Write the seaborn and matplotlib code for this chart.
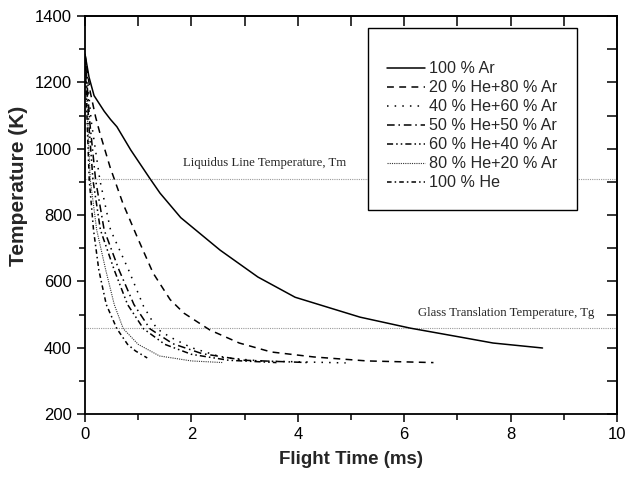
import numpy as np
import pandas as pd
import matplotlib
matplotlib.use("Agg")
import matplotlib.pyplot as plt
import seaborn as sns
from matplotlib.ticker import MultipleLocator

# ---------------- data ----------------
labels = ["100 % Ar", "20 % He+80 % Ar", "40 % He+60 % Ar", "50 % He+50 % Ar",
          "60 % He+40 % Ar", "80 % He+20 % Ar", "100 % He"]

t_ar = [0, 0.075, 0.17, 0.36, 0.48, 0.6, 0.86, 1.22, 1.41, 1.8, 2.54, 3.25, 3.95, 4.6, 5.17, 6.11, 7.05, 7.67, 8.6]
T_ar = [1285, 1216, 1160, 1113, 1088, 1066, 996, 910, 866, 792, 694, 613, 552, 520, 492, 459, 432, 414, 399]

t_he20 = [0, 0.1, 0.2, 0.28, 0.47, 0.71, 0.98, 1.28, 1.6, 1.86, 2.35, 2.9, 3.5, 4.3, 5.3, 6.55]
T_he20 = [1285, 1170, 1095, 1047, 945, 836, 734, 625, 545, 504, 453, 414, 387, 372, 360, 355]

t_he40 = [0, 0.12, 0.28, 0.48, 0.82, 1.1, 1.35, 1.6, 2.0, 2.6, 3.3, 4.9]
T_he40 = [1285, 1080, 905, 755, 634, 525, 457, 432, 400, 370, 360, 354]

t_he50 = [0, 0.09, 0.2, 0.36, 0.64, 0.92, 1.22, 1.65, 2.2, 3.0, 4.2]
T_he50 = [1285, 1080, 905, 755, 634, 530, 457, 412, 382, 362, 355]

t_he60 = [0, 0.07, 0.15, 0.29, 0.55, 0.8, 1.1, 1.5, 2.0, 2.7, 3.6]
T_he60 = [1285, 1080, 905, 755, 634, 530, 457, 410, 380, 362, 355]

t_he80 = [0, 0.05, 0.1, 0.22, 0.39, 0.55, 0.72, 1.0, 1.4, 2.0, 2.6]
T_he80 = [1285, 1080, 905, 755, 634, 530, 457, 410, 375, 360, 355]

t_he100 = [0, 0.04, 0.08, 0.16, 0.26, 0.4, 0.6, 0.8, 0.95, 1.17]
T_he100 = [1285, 1080, 905, 755, 634, 530, 457, 410, 390, 369]

tm_value = 910
tg_value = 460
tm_text = "Liquidus Line Temperature, Tm"
tg_text = "Glass Translation Temperature, Tg"

x_ticks = [0, 2, 4, 6, 8, 10]
y_ticks = [200, 400, 600, 800, 1000, 1200, 1400]

# ---------------- styling ----------------
sns.set_theme(style="white")
plt.rcParams["font.family"] = ["Liberation Sans", "DejaVu Sans"]

series_t = [t_ar, t_he20, t_he40, t_he50, t_he60, t_he80, t_he100]
series_T = [T_ar, T_he20, T_he40, T_he50, T_he60, T_he80, T_he100]
styles = ["-", (0, (4.5, 3.5)), (0, (1, 4)), (0, (5, 2.5, 1, 2.5)),
          (0, (4, 2, 1, 2, 1, 2)), (0, (1, 1)), (0, (3, 2, 1, 2))]
widths = [1.1, 1.1, 1.1, 1.1, 1.1, 0.8, 1.1]
colors = ["black", "black", "black", "black", "black", "#333333", "black"]

fig = plt.figure(figsize=(6.3, 4.78), dpi=100)
ax = fig.add_axes([85 / 630, 1 - 414 / 478, 532 / 630, 398 / 478])

ax.axhline(tm_value, color="#9a9a9a", lw=0.8, ls=(0, (1, 1)), zorder=1)
ax.axhline(tg_value, color="#9a9a9a", lw=0.8, ls=(0, (1, 1)), zorder=1)

for lab, t, T, ls, lw, c in zip(labels, series_t, series_T, styles, widths, colors):
    df = pd.DataFrame({"t": t, "T": T})
    sns.lineplot(data=df, x="t", y="T", ax=ax, color=c, linestyle=ls,
                 linewidth=lw, label=lab, sort=False, estimator=None)

ax.text(1.84, 957, tm_text, family="Liberation Serif", fontsize=9.2,
        va="center", ha="left")
ax.text(6.26, 504, tg_text, family="Liberation Serif", fontsize=9.2,
        va="center", ha="left")

ax.set_xlim(0, 10)
ax.set_ylim(200, 1400)
ax.set_xticks(x_ticks)
ax.set_yticks(y_ticks)
ax.xaxis.set_minor_locator(MultipleLocator(1))
ax.yaxis.set_minor_locator(MultipleLocator(100))
ax.tick_params(which="major", direction="out", length=6, width=1.1,
               labelsize=12, color="black", labelcolor="black", pad=3.5)
ax.tick_params(which="minor", direction="out", length=4, width=1.1,
               color="black", bottom=True, left=True)
ax.tick_params(axis="both", which="both", bottom=True, left=True)

for sp in ax.spines.values():
    sp.set_color("black")
    sp.set_linewidth(1.3)

top = ax.secondary_xaxis("top")
top.set_xticks(np.arange(0, 11, 1))
top.tick_params(direction="in", length=7, width=1.1, labeltop=False, color="black")
right = ax.secondary_yaxis("right")
right.set_yticks(np.arange(200, 1401, 100))
right.tick_params(direction="in", length=7, width=1.1, labelright=False, color="black")

ax.set_xlabel("Flight Time (ms)", fontsize=13.5, fontweight="bold", labelpad=6)
ax.set_ylabel("Temperature (K)", fontsize=15, fontweight="bold")
ax.yaxis.set_label_coords(-0.108, 0.573)

handles, labs = ax.get_legend_handles_labels()
leg = ax.legend(handles, labs, loc="upper left", bbox_to_anchor=(0.532, 0.970),
                borderaxespad=0, frameon=True, fancybox=False, framealpha=1,
                edgecolor="black", fontsize=11.6, handlelength=2.35,
                handletextpad=0.25, labelspacing=0.25, borderpad=1.2,
                title=" ", title_fontsize=7)
leg.get_frame().set_linewidth(1.0)

fig.savefig("out.png", dpi=100)
